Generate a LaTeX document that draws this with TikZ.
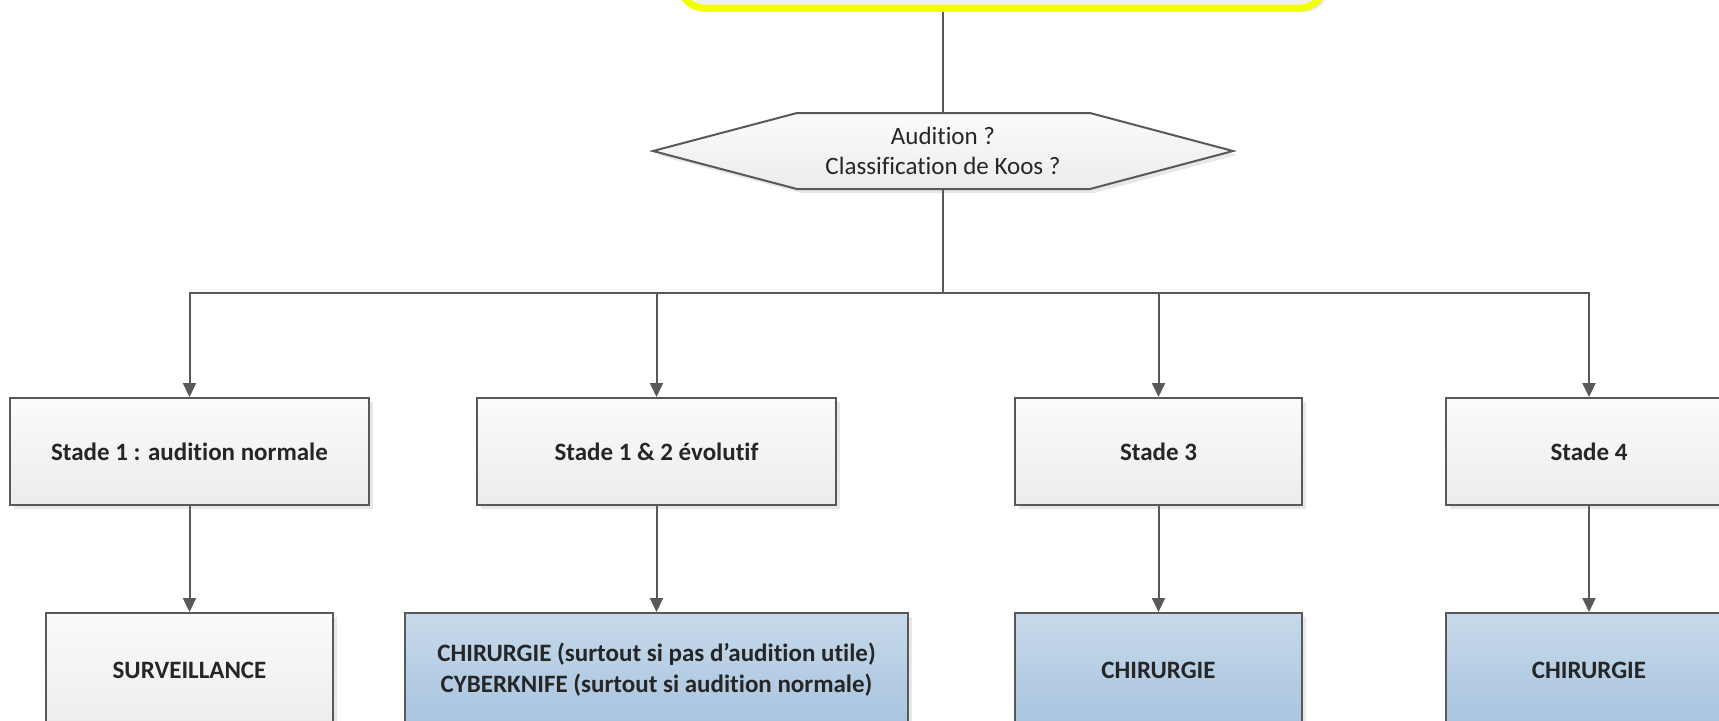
\documentclass[tikz,border=0pt]{standalone}
\usepackage{fontspec}
\setmainfont{Carlito}[Ligatures=NoCommon]
\usetikzlibrary{arrows.meta, shadows}
\definecolor{linegray}{RGB}{89,89,89}
\definecolor{boxtop}{RGB}{251,251,251}
\definecolor{boxbot}{RGB}{236,236,236}
\definecolor{bluetop}{RGB}{199,217,234}
\definecolor{bluebot}{RGB}{167,196,223}
\definecolor{hiyellow}{RGB}{242,255,0}
\definecolor{inktext}{RGB}{38,38,38}
\tikzstyle{shade} = [drop shadow={shadow xshift=2pt, shadow yshift=-2pt,
                     fill=black!9, opacity=1}]
\tikzstyle{stadebox} = [rectangle, draw=linegray, line width=1pt,
                        top color=boxtop, bottom color=boxbot,
                        minimum height=53.5pt, inner sep=0pt, align=center,
                        font=\fontsize{12.5}{15.5}\selectfont\bfseries,
                        text=inktext, shade]
\tikzstyle{issuebox} = [stadebox, top color=bluetop, bottom color=bluebot,
                        minimum height=57pt]
\tikzstyle{decision} = [draw=linegray, line width=1pt,
                        top color=boxtop, bottom color=boxbot, shade]
\tikzstyle{line} = [draw=linegray, line width=1pt]
\tikzstyle{arrow} = [line, -{Triangle[length=7pt,width=6.5pt]}]

\begin{document}
\begin{tikzpicture}[x=0.5pt, y=-0.5pt]
        \clip (0,0) rectangle (1719,720);
        \fill [white] (0,0) rectangle (1719,720);

        % box at the top, cut by the page
        \node (top) [rectangle, rounded corners=12pt, draw=hiyellow,
                     line width=3.5pt, fill=black!6, minimum width=322pt,
                     minimum height=53.5pt, shade] at (1002,-45.5) {};

        \draw [decision] (653,151) -- (797,113) -- (1090,113) -- (1233,151)
                         -- (1090,189) -- (797,189) -- cycle;
        \node (hex) [minimum height=38pt, inner sep=0pt, align=center,
                     font=\fontsize{12.5}{15}\selectfont, text=inktext]
                     at (943,151) {Audition ?\\Classification de Koos ?};

        \coordinate (bus) at (943,293);

        \node (stade1) [stadebox, minimum width=179.5pt] at (189.5,451.5) {Stade 1 : audition normale};
        \node (stade2) [stadebox, minimum width=179.5pt] at (656.5,451.5) {Stade 1 \& 2 évolutif};
        \node (stade3) [stadebox, minimum width=143.5pt] at (1158.5,451.5) {Stade 3};
        \node (stade4) [stadebox, minimum width=143.5pt] at (1589,451.5) {Stade 4};

        \node (issue1) [stadebox, minimum width=143.5pt, minimum height=57pt] at (189.5,670) {SURVEILLANCE};
        \node (issue2) [issuebox, minimum width=251.5pt] at (656.5,670) {CHIRURGIE (surtout si pas d’audition utile)\\CYBERKNIFE (surtout si audition normale)};
        \node (issue3) [issuebox, minimum width=143.5pt] at (1158.5,670) {CHIRURGIE};
        \node (issue4) [issuebox, minimum width=143.5pt] at (1589,670) {CHIRURGIE};

        \draw [line] (hex.north |- top.south) -- (hex.north);
        \draw [line] (hex.south) -- (bus);
        \draw [arrow] (bus) -| (stade1.north);
        \draw [arrow] (bus) -| (stade2.north);
        \draw [arrow] (bus) -| (stade3.north);
        \draw [arrow] (bus) -| (stade4.north);

        \draw [arrow] (stade1) -- (issue1);
        \draw [arrow] (stade2) -- (issue2);
        \draw [arrow] (stade3) -- (issue3);
        \draw [arrow] (stade4) -- (issue4);

    \end{tikzpicture}
\end{document}
